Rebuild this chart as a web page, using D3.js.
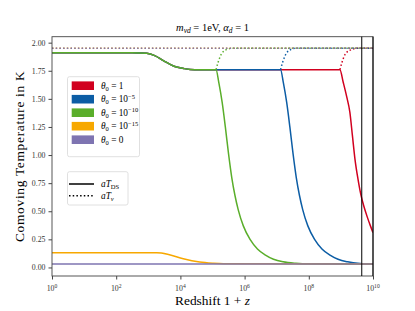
<!DOCTYPE html>
<html>
<head>
<meta charset="utf-8">
<script src="https://cdn.jsdelivr.net/npm/d3@7"></script>
<style>
  body { margin: 0; background: #fff; }
  svg { display: block; font-family: "Liberation Serif", "DejaVu Serif", serif; }
</style>
</head>
<body>
<svg width="415" height="311"></svg>
<script>
// log10(1+z) positions and temperatures (K)
const commonExp  = [0, 2.5, 2.95, 3.2, 3.47, 3.8, 4.1, 4.3, 4.6];
const commonT    = [1.91, 1.91, 1.905, 1.885, 1.84, 1.79, 1.77, 1.762, 1.76];

const redExp   = [8.97, 9.07, 9.18, 9.28, 9.36, 9.44, 9.53, 9.62, 9.72, 9.82, 9.92, 10];
const redT     = [1.76, 1.65, 1.52, 1.38, 1.17, 0.96, 0.79, 0.65, 0.54, 0.45, 0.37, 0.31];
const blueExp  = [7.12, 7.21, 7.31, 7.41, 7.51, 7.61, 7.71, 7.81, 7.97, 8.18, 8.41, 8.66, 8.91, 9.21, 9.6, 10];
const blueT    = [1.76, 1.64, 1.47, 1.25, 1.01, 0.80, 0.64, 0.515, 0.37, 0.25, 0.165, 0.11, 0.073, 0.05, 0.035, 0.03];
const greenExp = [5.11, 5.2, 5.3, 5.4, 5.5, 5.6, 5.7, 5.8, 5.96, 6.17, 6.4, 6.65, 6.9, 7.2, 7.6, 8, 10];
const greenT   = [1.76, 1.64, 1.47, 1.25, 1.01, 0.80, 0.64, 0.515, 0.37, 0.25, 0.165, 0.11, 0.073, 0.05, 0.037, 0.032, 0.03];
const orangeExp = [0, 3.26, 3.6, 4.09, 4.6, 5.0, 5.34, 10];
const orangeT   = [0.13, 0.13, 0.118, 0.077, 0.048, 0.037, 0.032, 0.03];
const purpleExp = [0, 10];
const purpleT   = [0.03, 0.03];

// neutrino temperature (dotted)
const redNuExp   = [8.97, 9.04, 9.15, 9.35, 9.5, 10];
const blueNuExp  = [7.12, 7.19, 7.30, 7.45, 7.6, 10];
const greenNuExp = [5.11, 5.18, 5.29, 5.45, 5.6, 10];
const nuRiseT    = [1.76, 1.83, 1.905, 1.94, 1.95, 1.95];
const flatNuExp  = [0, 10];
const flatNuT    = [1.95, 1.95];

const vlineExp = [9.65, 10];

const seriesNames = ["1", "−5", "−10", "−15", "0"];
const seriesColors = ["#d1001f", "#0c5da5", "#5aae2b", "#f7a800", "#7e74b1"];

const yTicks = [0, 0.25, 0.5, 0.75, 1.0, 1.25, 1.5, 1.75, 2.0];
const xTickExps = [0, 2, 4, 6, 8, 10];

const zip = (e, t) => e.map((v, i) => [v, t[i]]);
const common = zip(commonExp, commonT);
const solids = [
  common.concat([[5.11, 1.76], [7.12, 1.76]], zip(redExp, redT)),
  common.concat([[5.11, 1.76]], zip(blueExp, blueT)),
  common.concat(zip(greenExp, greenT)),
  zip(orangeExp, orangeT),
  zip(purpleExp, purpleT)
];
const dotteds = [
  zip(redNuExp, nuRiseT),
  zip(blueNuExp, nuRiseT),
  zip(greenNuExp, nuRiseT),
  zip(flatNuExp, flatNuT),
  zip(flatNuExp, flatNuT)
];

const svg = d3.select("svg");
const L = 52, R = 373, T = 36.7, B = 276;

const x = d3.scaleLog().domain([1, 1e10]).range([L, R]);
const y = d3.scaleLinear().domain([-0.076, 2.053]).range([B, T]);

const line = d3.line()
  .x(d => x(Math.pow(10, d[0])))
  .y(d => y(d[1]))
  .curve(d3.curveMonotoneX);

const plot = svg.append("g");
plot.append("clipPath").attr("id", "clip")
  .append("rect").attr("x", L).attr("y", T).attr("width", R - L).attr("height", B - T);

const curves = plot.append("g").attr("clip-path", "url(#clip)");

seriesColors.forEach((c, i) => {
  curves.append("path")
    .attr("d", line(solids[i]))
    .attr("fill", "none").attr("stroke", c).attr("stroke-width", 1.5);
  curves.append("path")
    .attr("d", line(dotteds[i]))
    .attr("fill", "none").attr("stroke", c).attr("stroke-width", 1.5)
    .attr("stroke-dasharray", "1.5,2.2");
});

// frame
plot.append("rect").attr("x", L).attr("y", T).attr("width", R - L).attr("height", B - T)
  .attr("fill", "none").attr("stroke", "#444").attr("stroke-width", 0.9);

// vertical lines
plot.selectAll(".vl").data(vlineExp).enter().append("line")
  .attr("x1", d => x(Math.pow(10, d))).attr("x2", d => x(Math.pow(10, d)))
  .attr("y1", T).attr("y2", B)
  .attr("stroke", "#000").attr("stroke-width", 1);

// y axis
const yAxis = svg.append("g").attr("transform", `translate(${L},0)`)
  .call(d3.axisLeft(y).tickValues(yTicks).tickFormat(d3.format(".2f")).tickSize(3.5).tickPadding(3));
yAxis.select(".domain").remove();
yAxis.selectAll("line").attr("stroke", "#444");
yAxis.selectAll("text").attr("font-size", 7.8).attr("fill", "#333")
  .attr("font-family", "Liberation Serif, serif");

// x axis
const xAxis = svg.append("g").attr("transform", `translate(0,${B})`)
  .call(d3.axisBottom(x).tickValues(xTickExps.map(e => Math.pow(10, e))).tickFormat("").tickSize(3.5));
xAxis.select(".domain").remove();
xAxis.selectAll("line").attr("stroke", "#444");
const xl = svg.append("g").selectAll("text").data(xTickExps).enter().append("text")
  .attr("x", e => x(Math.pow(10, e))).attr("y", 290.5)
  .attr("text-anchor", "middle").attr("font-size", 7.8).attr("fill", "#333");
xl.append("tspan").text("10");
xl.append("tspan").attr("font-size", 5.6).attr("dy", -3).text(e => e);

// axis labels
svg.append("text").attr("x", (L + R) / 2).attr("y", 304.5).attr("text-anchor", "middle")
  .attr("font-size", 13.4).text("Redshift 1 + ").append("tspan").attr("font-style", "italic").text("z");
svg.append("text").attr("transform", `translate(24,${(T + B) / 2}) rotate(-90)`)
  .attr("text-anchor", "middle").attr("font-size", 13.4).attr("letter-spacing", 0.7)
  .text("Comoving Temperature in K");

// title
const title = svg.append("text").attr("x", (L + R) / 2).attr("y", 31).attr("text-anchor", "middle")
  .attr("font-size", 10.5);
title.append("tspan").attr("font-style", "italic").text("m");
title.append("tspan").attr("font-size", 7.5).attr("dy", 2).attr("font-style", "italic").text("νd");
title.append("tspan").attr("dy", -2).text(" = 1eV, ");
title.append("tspan").attr("font-style", "italic").text("α");
title.append("tspan").attr("font-size", 7.5).attr("dy", 2).attr("font-style", "italic").text("d");
title.append("tspan").attr("dy", -2).text(" = 1");

// legend 1
const lg = svg.append("g");
lg.append("rect").attr("x", 67.5).attr("y", 76.7).attr("width", 72).attr("height", 80).attr("rx", 2)
  .attr("fill", "#fff").attr("fill-opacity", 0.8).attr("stroke", "#d8d8d8").attr("stroke-width", 0.8);
seriesNames.forEach((n, i) => {
  const cy = 85.7 + i * 13.5;
  lg.append("rect").attr("x", 71.7).attr("y", cy - 4.3).attr("width", 22.3).attr("height", 8.6)
    .attr("fill", seriesColors[i]);
  const t = lg.append("text").attr("x", 101).attr("y", cy + 3).attr("font-size", 9.3);
  t.append("tspan").attr("font-style", "italic").text("θ");
  t.append("tspan").attr("font-size", 6.5).attr("dy", 2).text("0");
  if (n === "1" || n === "0") {
    t.append("tspan").attr("dy", -2).text(" = " + n);
  } else {
    t.append("tspan").attr("dy", -2).text(" = 10");
    t.append("tspan").attr("font-size", 6.5).attr("dy", -3.5).text(n);
  }
});

// legend 2
const lg2 = svg.append("g");
lg2.append("rect").attr("x", 67.5).attr("y", 171.7).attr("width", 60.5).attr("height", 33.3).attr("rx", 2)
  .attr("fill", "#fff").attr("fill-opacity", 0.8).attr("stroke", "#d8d8d8").attr("stroke-width", 0.8);
[["DS", null], ["ν", "1.5,2.2"]].forEach((d, i) => {
  const cy = 184 + i * 11.7;
  lg2.append("line").attr("x1", 69).attr("x2", 94).attr("y1", cy).attr("y2", cy)
    .attr("stroke", "#000").attr("stroke-width", 1.5).attr("stroke-dasharray", d[1]);
  const t = lg2.append("text").attr("x", 101).attr("y", cy + 3).attr("font-size", 9.3).attr("font-style", "italic");
  t.append("tspan").text("aT");
  t.append("tspan").attr("font-size", 6.5).attr("dy", 2)
    .attr("font-style", d[0] === "DS" ? "normal" : "italic").text(d[0]);
});
</script>
</body>
</html>
